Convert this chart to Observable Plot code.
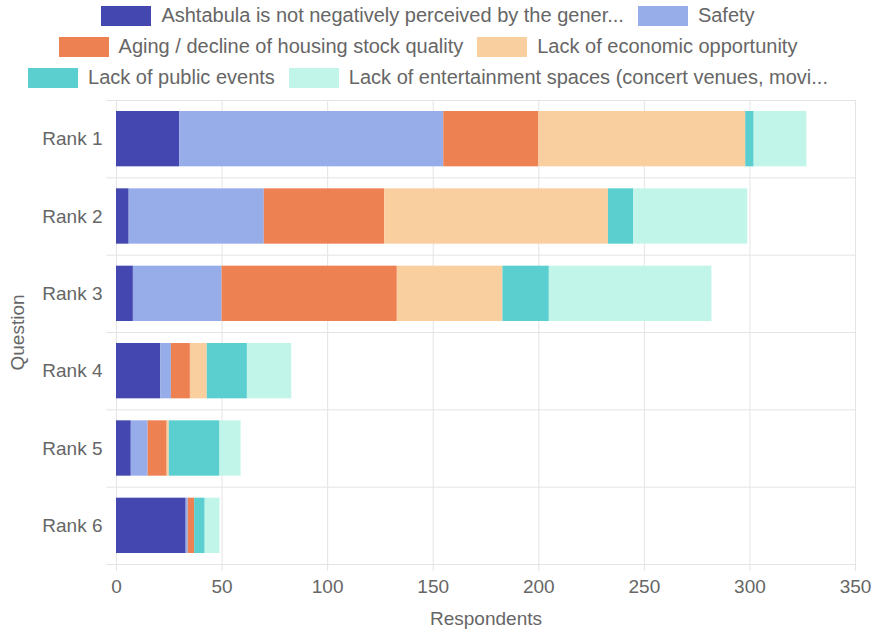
<!DOCTYPE html>
<html>
<head>
<meta charset="utf-8">
<script src="https://cdn.jsdelivr.net/npm/d3@7"></script>
<script src="https://cdn.jsdelivr.net/npm/@observablehq/plot@0.6"></script>
<style>
  html, body { margin: 0; padding: 0; background: #fff; }
  body { width: 874px; height: 629px; overflow: hidden; font-family: "Liberation Sans", Arial, Helvetica, sans-serif; }
  #legend { height: 92px; padding-right: 18px; box-sizing: border-box; }
  .row { height: 31px; display: flex; justify-content: center; align-items: center; }
  .item { display: flex; align-items: center; margin: 0 7px; font-size: 20px; color: #666; white-space: nowrap; }
  .sw { width: 48px; height: 18px; margin-right: 10px; border: 1px solid; }
</style>
</head>
<body>
<div id="legend"></div>
<div id="chart"></div>
<script>
const ranks = ["Rank 1", "Rank 2", "Rank 3", "Rank 4", "Rank 5", "Rank 6"];
const seriesNames = [
  "Ashtabula is not negatively perceived by the gener...",
  "Safety",
  "Aging / decline of housing stock quality",
  "Lack of economic opportunity",
  "Lack of public events",
  "Lack of entertainment spaces (concert venues, movi..."
];
const seriesColors = ["#4447AF", "#97ADEA", "#EE8152", "#F9CFA0", "#5BCFCF", "#C2F5E9"];
const ashtabula     = [30, 6, 8, 21, 7, 33];
const safety        = [125, 64, 42, 5, 8, 1];
const aging         = [45, 57, 83, 9, 9, 3];
const economic      = [98, 106, 50, 8, 1, 0];
const events        = [4, 12, 22, 19, 24, 5];
const entertainment = [25, 54, 77, 21, 10, 7];
const xTicks = [0, 50, 100, 150, 200, 250, 300, 350];
const legendRows = [[0, 1], [2, 3], [4, 5]];

const seriesValues = [ashtabula, safety, aging, economic, events, entertainment];

// build stacked table
const rows = [];
ranks.forEach((r, i) => {
  let acc = 0;
  seriesValues.forEach((vals, s) => {
    const v = vals[i];
    rows.push({rank: r, idx: i, series: seriesNames[s], x1: acc, x2: acc + v, v});
    acc += v;
  });
});

// legend
const legend = document.getElementById("legend");
legendRows.forEach(row => {
  const div = document.createElement("div");
  div.className = "row";
  row.forEach(s => {
    const it = document.createElement("div");
    it.className = "item";
    const sw = document.createElement("span");
    sw.className = "sw";
    sw.style.background = seriesColors[s];
    sw.style.borderColor = seriesColors[s];
    const t = document.createElement("span");
    t.textContent = seriesNames[s];
    it.appendChild(sw);
    it.appendChild(t);
    div.appendChild(it);
  });
  legend.appendChild(div);
});

const boundaries = d3.range(0, ranks.length + 1);
const centers = ranks.map((r, i) => i + 0.5);
const grid = "#e4e4e4";

const chart = Plot.plot({
  width: 874,
  height: 537,
  marginTop: 8,
  marginBottom: 65,
  marginLeft: 116,
  marginRight: 19,
  style: {fontFamily: '"Liberation Sans", Arial, Helvetica, sans-serif', fontSize: "19px", color: "#666", background: "#fff"},
  x: {domain: [0, 350]},
  y: {domain: [0, ranks.length], reverse: true},
  color: {domain: seriesNames, range: seriesColors},
  marks: [
    Plot.gridX(xTicks, {stroke: grid, strokeOpacity: 1}),
    Plot.gridY(boundaries, {stroke: grid, strokeOpacity: 1}),
    Plot.rectX(rows, {
      x1: "x1", x2: "x2",
      y1: "idx", y2: d => d.idx + 1,
      fill: "series",
      insetTop: 11, insetBottom: 11
    }),
    Plot.axisX(xTicks, {
      tickSize: 7, tickPadding: 8, stroke: grid, strokeOpacity: 1, fill: "#666",
      label: "Respondents", labelAnchor: "center", labelArrow: "none", labelOffset: 60
    }),
    Plot.axisY(boundaries, {tickSize: 10, tickFormat: () => "", stroke: grid, strokeOpacity: 1, label: null}),
    Plot.axisY(centers, {
      tickSize: 0, tickPadding: 14, fill: "#666",
      tickFormat: v => ranks[Math.floor(v)],
      label: "Question", labelAnchor: "center", labelArrow: "none", labelOffset: 106
    })
  ]
});
document.getElementById("chart").appendChild(chart);
</script>
</body>
</html>
